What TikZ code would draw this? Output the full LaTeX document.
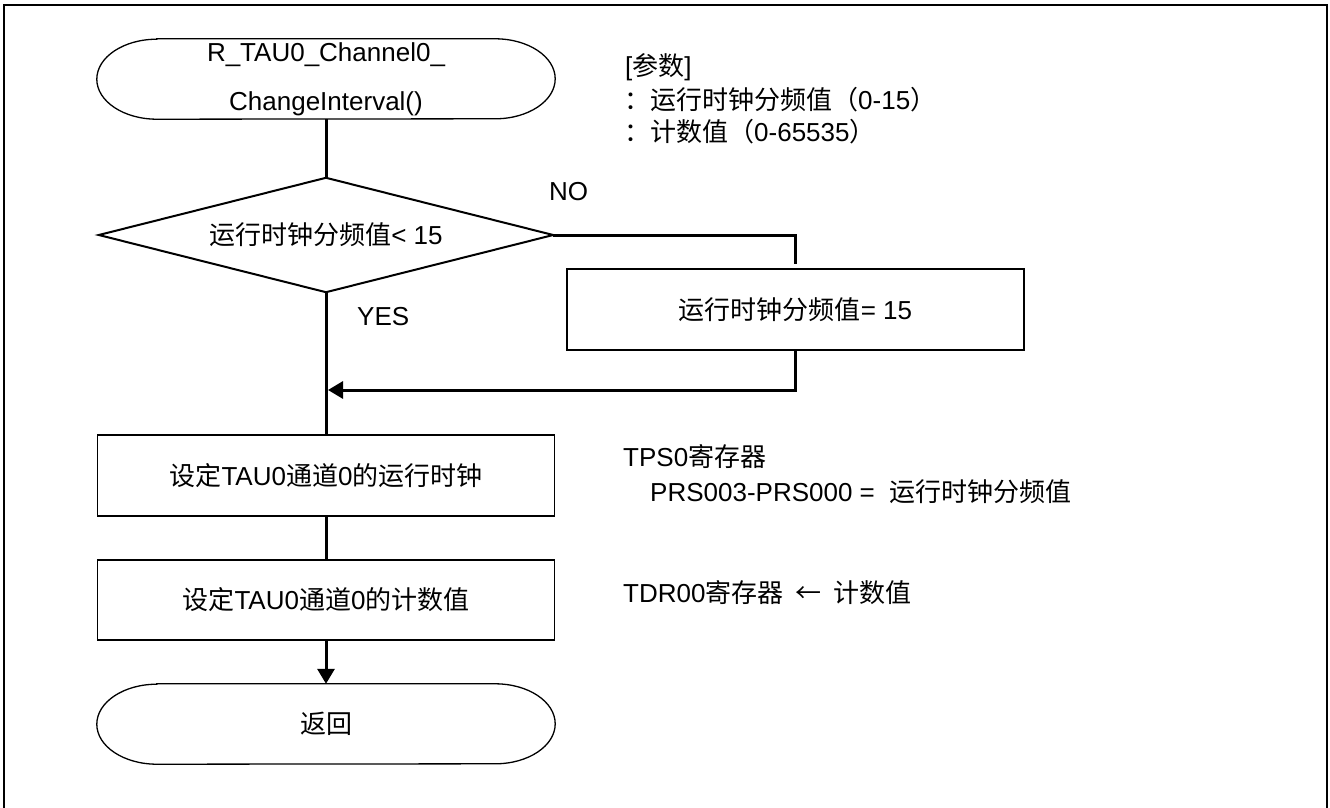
\documentclass[tikz,border=0pt]{standalone}
\usepackage{fontspec}
\setmainfont{Liberation Sans}
\newfontfamily\cjk{Noto Sans CJK SC}
\usetikzlibrary{arrows.meta}
\newcommand{\zh}[1]{{\cjk #1}}
\begin{document}
\begin{tikzpicture}[x=1pt,y=-1pt,
  every node/.style={font=\fontsize{26}{31}\selectfont},
  conn/.style={line width=3pt},
  arr/.style={conn,-{Triangle[length=15pt,width=17pt]}},
  procbox/.style={draw,line width=1.5pt,minimum width=457pt,minimum height=81pt,inner sep=0pt,align=center},
  shapebase/.style={inner sep=0pt,minimum width=458pt,minimum height=80pt,align=center},
  note/.style={anchor=west,inner sep=0pt,align=left},
  termline/.style={line width=1.3pt}
]
\useasboundingbox (0,0) rectangle (1330,808);
\draw[line width=2.5pt] (4,5) rectangle (1327,812);

% start terminal
\node[shapebase,font=\fontsize{26}{49}\selectfont] (start) at (326,79) {R\_TAU0\_Channel0\_\\ChangeInterval()};
\draw[termline] ([xshift=60pt]start.north west) -- ([xshift=-60pt]start.north east)
  arc[start angle=90,end angle=-90,x radius=60pt,y radius=40pt]
  -- ([xshift=60pt]start.south west)
  arc[start angle=270,end angle=90,x radius=60pt,y radius=40pt] -- cycle;

% decision
\node[inner sep=0pt,minimum width=454pt,minimum height=114pt] (dec) at (326,235) {\zh{运行时钟分频值}< 15};
\draw[line width=2pt] (dec.north) -- (dec.east) -- (dec.south) -- (dec.west) -- cycle;

% NO branch box
\node[procbox] (b15) at (795.5,309.5) {\zh{运行时钟分频值}= 15};
\coordinate (noend) at (795,264);
\coordinate (merge) at (328,390);

% process boxes
\node[procbox] (box1) at (326,475.5) {\zh{设定}TAU0\zh{通道}0\zh{的运行时钟}};
\node[procbox,minimum height=80pt] (box2) at (326,600) {\zh{设定}TAU0\zh{通道}0\zh{的计数值}};

% return terminal
\node[shapebase] (ret) at (326,724) {\zh{返回}};
\draw[termline] ([xshift=60pt]ret.north west) -- ([xshift=-60pt]ret.north east)
  arc[start angle=90,end angle=-90,x radius=60pt,y radius=40pt]
  -- ([xshift=60pt]ret.south west)
  arc[start angle=270,end angle=90,x radius=60pt,y radius=40pt] -- cycle;

% connectors
\draw[conn] (start.south) -- (dec.north);
\draw[conn] (dec.east) -| (noend);
\draw[arr] (b15.south) |- (merge);
\draw[conn] (dec.south) -- (box1.north);
\draw[conn] (box1.south) -- (box2.north);
\draw[arr] (box2.south) -- (ret.north);

% labels
\node[note] (nolbl) at (549,192) {NO};
\node[note] (yeslbl) at (357,317) {YES};

% annotations
\node[note] (p0) at (625,67) {[\zh{参数}]};
\node[note] (p1) at (624,100) {\zh{：运行时钟分频值（}0-15\zh{）}};
\node[note] (p2) at (624,132) {\zh{：计数值（}0-65535\zh{）}};
\node[note] (t1) at (623,457) {TPS0\zh{寄存器}};
\node[note] (t2) at (650,492) {PRS003-PRS000 =\ \ \zh{运行时钟分频值}};
\node[note] (t3) at (623,593) {TDR00\zh{寄存器}\hspace{12pt}\zh{←}\hspace{12pt}\zh{计数值}};
\end{tikzpicture}
\end{document}
